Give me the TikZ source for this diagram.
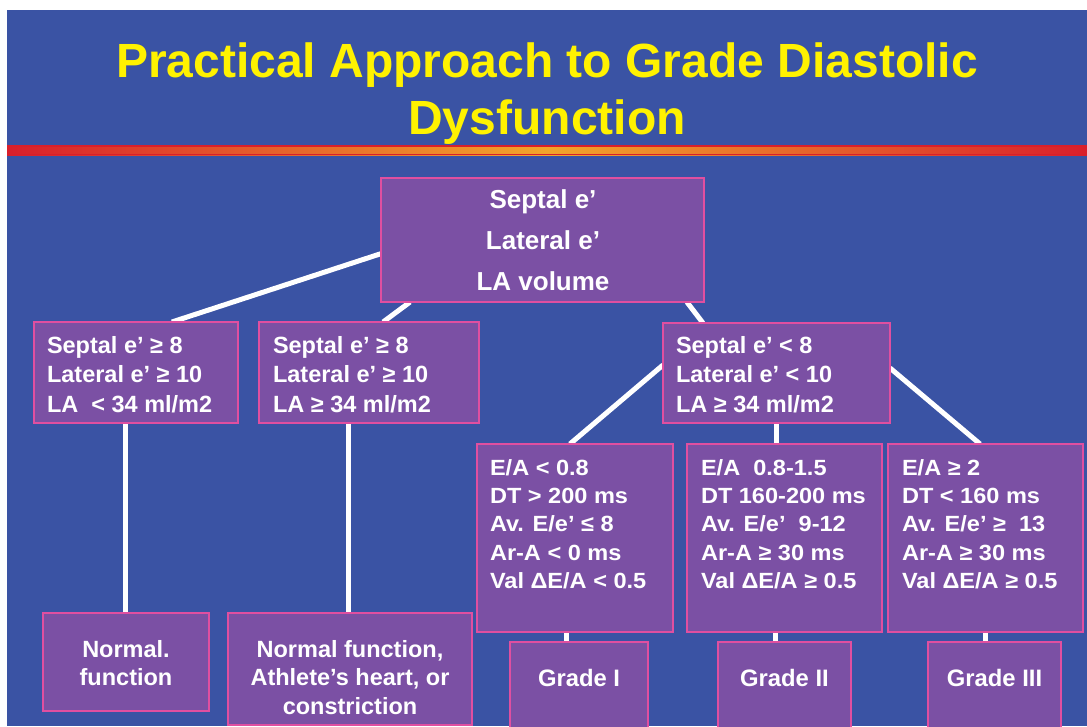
\documentclass[tikz,border=0pt]{standalone}
\usepackage{fontspec}
\setmainfont{Liberation Sans}
\newfontfamily\rowfont[FakeStretch=1.07]{Liberation Sans}
\usetikzlibrary{calc}
\definecolor{bgblue}{HTML}{3A53A4}
\definecolor{boxpurple}{HTML}{7B50A4}
\definecolor{boxpink}{HTML}{E04FA0}
\definecolor{titleyellow}{HTML}{FFF200}
\definecolor{stripred}{HTML}{D91F2B}
\definecolor{striporange}{HTML}{F2A52A}
\newcommand\CL[1]{\hbox to 0pt{\hss#1\hss}}
\newcommand\LL[1]{\hbox{#1}}
\pgfdeclarelayer{bgl}
\pgfdeclarelayer{connectors}
\pgfsetlayers{bgl,connectors,main}
\tikzset{
  box/.style={draw=boxpink, fill=boxpurple, line width=2.5pt, inner sep=0pt, outer sep=0pt, anchor=north west},
  txt/.style={text=white, inner sep=0pt, outer sep=0pt},
  toptxt/.style={txt, anchor=base, font=\fontsize{26}{41}\selectfont\bfseries},
  rowtwo/.style={txt, anchor=base west, font=\fontsize{23.5}{29.5}\selectfont\bfseries},
  rowthree/.style={txt, anchor=base west, font=\rowfont\fontsize{22}{28.4}\selectfont\bfseries},
  rowfour/.style={txt, anchor=base, font=\fontsize{23.5}{28.5}\selectfont\bfseries},
  gradetxt/.style={txt, anchor=base, font=\fontsize{23.8}{28}\selectfont\bfseries},
  titletxt/.style={text=titleyellow, inner sep=0pt, anchor=base, font=\fontsize{48}{57}\selectfont\bfseries},
  conn/.style={draw=white, line width=5pt}
}
\begin{document}
\begin{tikzpicture}[x=1pt, y=-1pt]
\useasboundingbox (0,0) rectangle (1087,726);
\begin{pgfonlayer}{bgl}
  \fill[white] (0,0) rectangle (1087,726);
  \fill[bgblue] (7,10) rectangle (1087,726);
  \shade[left color=stripred, right color=stripred, middle color=striporange] (7,145) rectangle (1087,155);
  \draw[stripred, line width=1.5pt] (7,145.75) -- (1087,145.75);
  \draw[stripred, line width=1.5pt] (7,154.25) -- (1087,154.25);
\end{pgfonlayer}

% title
\node[titletxt] (title) at (547,77) {\vtop{\CL{Practical Approach to Grade Diastolic}\CL{Dysfunction}}};

% boxes
\node[box, minimum width=323pt, minimum height=124pt] (top) at (381,178) {};
\node[box, minimum width=204pt, minimum height=101pt] (A) at (34,322) {};
\node[box, minimum width=220pt, minimum height=101pt] (B) at (259,322) {};
\node[box, minimum width=227pt, minimum height=100pt] (C) at (663,323) {};
\node[box, minimum width=196pt, minimum height=188pt] (D) at (477,444) {};
\node[box, minimum width=195pt, minimum height=188pt] (E) at (687,444) {};
\node[box, minimum width=195pt, minimum height=188pt] (F) at (888,444) {};
\node[box, minimum width=166pt, minimum height=98pt] (N1) at (43,613) {};
\node[box, minimum width=244pt, minimum height=112pt] (N2) at (228,613) {};
\node[box, minimum width=138pt, minimum height=95pt] (G1) at (510,642) {};
\node[box, minimum width=133pt, minimum height=95pt] (G2) at (718,642) {};
\node[box, minimum width=133pt, minimum height=95pt] (G3) at (928,642) {};

% texts
\node[toptxt] (toptext) at (543,208) {\vtop{\CL{Septal e’}\CL{Lateral e’}\CL{LA volume}}};
\node[rowtwo] (Atext) at (47,353) {\vtop{\LL{Septal e’ ≥ 8}\LL{Lateral e’ ≥ 10}\LL{LA \ < 34 ml/m2}}};
\node[rowtwo] (Btext) at (273,353) {\vtop{\LL{Septal e’ ≥ 8}\LL{Lateral e’ ≥ 10}\LL{LA ≥ 34 ml/m2}}};
\node[rowtwo] (Ctext) at (676,353) {\vtop{\LL{Septal e’ < 8}\LL{Lateral e’ < 10}\LL{LA ≥ 34 ml/m2}}};
\node[rowthree] (Dtext) at (490,475) {\vtop{\LL{E/A < 0.8}\LL{DT > 200 ms}\LL{Av. E/e’ ≤ 8}\LL{Ar-A < 0 ms}\LL{Val ΔE/A < 0.5}}};
\node[rowthree] (Etext) at (701,475) {\vtop{\LL{E/A \ 0.8-1.5}\LL{DT 160-200 ms}\LL{Av. E/e’ \ 9-12}\LL{Ar-A ≥ 30 ms}\LL{Val ΔE/A ≥ 0.5}}};
\node[rowthree] (Ftext) at (902,475) {\vtop{\LL{E/A ≥ 2}\LL{DT < 160 ms}\LL{Av. E/e’ ≥ \ 13}\LL{Ar-A ≥ 30 ms}\LL{Val ΔE/A ≥ 0.5}}};
\node[rowfour] (N1text) at (126,657) {\vtop{\CL{Normal.}\CL{function}}};
\node[rowfour] (N2text) at (350,657) {\vtop{\CL{Normal function,}\CL{Athlete’s heart, or}\CL{constriction}}};
\node[gradetxt] (G1text) at (579,686) {Grade I};
\node[gradetxt] (G2text) at (784.5,686) {Grade II};
\node[gradetxt] (G3text) at (994.5,686) {Grade III};

% connectors
\begin{pgfonlayer}{connectors}
  \draw[conn] ($(top.north west)!0.61!(top.south west)$) -- ($(A.north west)!0.676!(A.north east)$);
  \draw[conn] ($(top.south west)!0.09!(top.south east)$) -- ($(B.north west)!0.564!(B.north east)$);
  \draw[conn] ($(top.south west)!0.947!(top.south east)$) -- ($(C.north west)!0.176!(C.north east)$);
  \draw[conn] ($(C.north west)!0.42!(C.south west)$) -- ($(D.north west)!0.474!(D.north east)$);
  \draw[conn] (C.south) -- (C.south |- E.north);
  \draw[conn] ($(C.north east)!0.45!(C.south east)$) -- ($(F.north west)!0.472!(F.north east)$);
  \draw[conn] ($(A.south west)!0.45!(A.south east)$) coordinate (a7) -- (a7 |- N1.north);
  \draw[conn] ($(B.south west)!0.405!(B.south east)$) coordinate (b8) -- (b8 |- N2.north);
  \draw[conn] ($(D.south west)!0.459!(D.south east)$) coordinate (d9) -- (d9 |- G1.north);
  \draw[conn] ($(E.south west)!0.456!(E.south east)$) coordinate (e10) -- (e10 |- G2.north);
  \draw[conn] (F.south) -- (F.south |- G3.north);
\end{pgfonlayer}
\end{tikzpicture}
\end{document}
